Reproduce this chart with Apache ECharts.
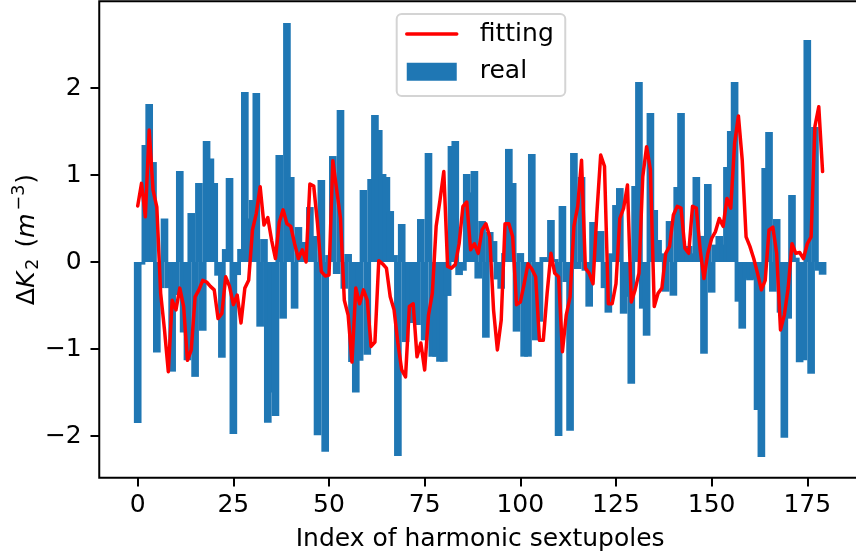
<!DOCTYPE html>
<html>
<head>
<meta charset="utf-8">
<script src="https://cdn.jsdelivr.net/npm/echarts@6/dist/echarts.min.js"></script>
<style>
  html, body { margin: 0; padding: 0; background: #fff; }
  #chart { width: 856px; height: 552px; }
</style>
</head>
<body>
<div id="chart"></div>
<script>
// Measured sextupole strength errors ("real") and the fitted curve ("fitting"),
// one value per harmonic sextupole index 0..179.
const realValues = [
  -1.85, -0.03, 1.345, 1.816, 1.149, -1.04, -0.30, 0.50, -0.30, -1.26,
  -0.38, 1.046, -0.81, -1.13, 0.563, -1.32, 0.908, -0.79, 1.39, 1.19,
  0.908, -0.157, -1.10, 0.149, 0.966, -1.977, -0.15, 0.15, 1.954, 0.5,
  0.713, 1.943, -0.743, 0.264, -1.847, -1.5, -1.77, 1.23, -0.651, 2.747,
  0.977, -0.536, 0.402, 0.23, 0.15, 0.632, 0.299, -1.99, 0.943, -2.18,
  0.08, 1.218, -0.138, 1.747, -0.307, 0.092, -1.149, -1.50, -1.134, 0.828,
  -1.065, 0.954, 1.69, 1.517, 1.011, 0.977, 0.586, 0.08, -2.23, 0.437,
  -0.92, -0.7, -0.7, -0.724, 0.494, -0.9, 1.253, -1.088, -1.088, -1.146,
  -1.146, -0.39, 1.333, 1.39, -0.15, -0.1, 1.011, 0.8, 1.046, -0.19,
  0.471, -0.87, 0.345, 0.241, -0.2, -0.307, 0.103, 1.3, 0.908, -0.8,
  0.103, -1.088, -1.088, 1.241, -0.9, -0.686, 0.057, 0.03, 0.483, 0.034,
  -2.0, 0.644, -0.23, -1.94, 1.253, -0.08, 0.977, -0.1, -0.513, 0.46,
  0.3, 0.356, -0.3, -0.582, 0.1, 0.655, 0.85, -0.594, -0.4, -1.40,
  0.874, 2.07, -0.536, -0.847, 1.713, 0.598, 0.253, 0.1, -0.341, 0.471,
  -0.387, 0.862, 1.713, 0.184, 0.184, 0.1, 0.977, 0.3, -1.054, 0.897,
  -0.352, 0.2, 0.299, 0.2, 1.092, 1.506, 2.07, -0.456, -0.766, -0.19,
  -0.21, -0.2, -1.70, -2.24, 1.08, 1.494, -0.341, 0.494, -0.582, -2.02,
  -0.651, 0.77, 0.05, -1.153, -1.13, 2.552, -1.284, 1.552, -0.1, -0.146
];

const fittingValues = [
  0.644, 0.904, 0.521, 1.517, 0.83, 0.63, -0.36, -0.78, -1.26, -0.44,
  -0.55, -0.30, -0.51, -1.13, -1.01, -0.40, -0.32, -0.21, -0.23, -0.28,
  -0.32, -0.65, -0.59, -0.17, -0.28, -0.49, -0.38, -0.70, -0.30, -0.21,
  0.37, 0.56, 0.866, 0.425, 0.51, 0.25, 0.04, 0.46, 0.60, 0.44,
  0.41, 0.21, 0.04, 0.14, 0.0, 0.897, 0.874, 0.44, -0.11, -0.16,
  -0.15, 1.165, 0.83, 0.50, -0.44, -0.61, -1.15, -0.30, -0.48, -0.32,
  -0.44, -0.97, -0.92, 0.015, -0.02, -0.07, -0.40, -0.55, -0.93, -1.24,
  -1.32, -0.51, -0.48, -1.09, -0.93, -1.24, -0.61, -0.36, 0.41, 0.71,
  1.04, -0.05, -0.07, -0.03, 0.21, 0.64, 0.69, 0.14, 0.21, 0.10,
  0.37, 0.44, 0.29, -0.55, -1.01, -0.67, 0.44, 0.44, 0.29, -0.49,
  -0.46, -0.25, -0.02, -0.08, -0.17, -0.90, -0.90, -0.36, 0.10, -0.13,
  -0.17, -1.03, -0.61, -0.40, 0.41, 0.64, 1.17, -0.07, -0.13, -0.25,
  0.56, 1.23, 1.10, -0.48, -0.48, -0.25, 0.50, 0.62, 0.885, -0.46,
  -0.32, -0.13, 0.98, 1.326, 1.06, -0.51, -0.36, -0.30, 0.10, 0.18,
  0.54, 0.64, 0.62, 0.16, 0.10, 0.64, 0.62, 0.14, -0.19, 0.10,
  0.27, 0.35, 0.50, 0.41, 0.73, 0.62, 1.364, 1.678, 1.17, 0.29,
  0.18, 0.04, -0.13, -0.32, -0.21, 0.37, 0.40, 0.10, -0.78, -0.61,
  -0.30, 0.21, 0.10, 0.11, 0.04, 0.21, 0.29, 1.56, 1.785, 1.04
];

const xTicks = [0, 25, 50, 75, 100, 125, 150, 175];
const yTicks = [-2, -1, 0, 1, 2];

const FONT = 'DejaVu Sans';
const BAR_SPAN = 2;          // each bar spans two index units (centered on its index)
const BAR_COLOR = '#1f77b4';
const LINE_COLOR = '#ff0000';
const LINE_WIDTH = 3.5;

const realData = realValues.map((v, i) => [i, v]);
const fittingData = fittingValues.map((v, i) => [i, v]);

const minus = s => String(s).replace('-', '\u2212');

const chart = echarts.init(document.getElementById('chart'), null, { renderer: 'canvas' });

chart.setOption({
  animation: false,
  backgroundColor: '#ffffff',
  grid: {
    left: 99.25, top: 1.35, width: 761.8, height: 476.35,
    show: true, borderColor: '#000000', borderWidth: 2,
    containLabel: false, outerBoundsMode: 'none'
  },
  legend: {
    orient: 'vertical',
    left: 396.7, top: 14,
    data: [
      // line-only legend key: the marker symbol is made fully transparent
      { name: 'fitting', itemStyle: { opacity: 0, borderWidth: 0 },
        lineStyle: { color: LINE_COLOR, width: LINE_WIDTH, opacity: 1 } },
      { name: 'real', icon: 'rect' }
    ],
    itemWidth: 50, itemHeight: 18, itemGap: 12.7,
    padding: [7.5, 11.5, 11.8, 8.3],
    backgroundColor: 'rgba(255,255,255,0.8)',
    borderColor: '#d4d4d4', borderWidth: 2, borderRadius: 5,
    textStyle: { fontSize: 25, fontFamily: FONT, color: '#000', lineHeight: 25, padding: [0, 0, 0, 18] }
  },
  xAxis: {
    type: 'value', min: -10.05, max: 189.05,
    name: 'Index of harmonic sextupoles',
    nameLocation: 'middle', nameGap: 49, nameMoveOverlap: false,
    nameTextStyle: { fontSize: 25, fontFamily: FONT, color: '#000' },
    axisLine: { show: false, onZero: false },
    axisTick: { show: true, length: 8.75, customValues: xTicks, lineStyle: { color: '#000', width: 2 } },
    axisLabel: { customValues: xTicks, margin: 15, fontSize: 25, fontFamily: FONT, color: '#000',
                 formatter: v => minus(v) },
    splitLine: { show: false }
  },
  yAxis: {
    type: 'value', min: -2.479, max: 2.996,
    name: '{a|\u0394}{i|K}{sub|2}{a| (}{i|m}{sup|\u22123}{a|)}',
    nameLocation: 'middle', nameGap: 55, nameRotate: 90, nameMoveOverlap: false,
    nameTextStyle: {
      fontSize: 25, fontFamily: FONT, color: '#000',
      rich: {
        a: { fontSize: 25, fontFamily: FONT, color: '#000' },
        i: { fontSize: 25, fontFamily: FONT, fontStyle: 'italic', color: '#000', padding: [0, 1, 0, 0] },
        sub: { fontSize: 17.5, fontFamily: FONT, color: '#000', padding: [12, 3, 0, 1] },
        sup: { fontSize: 17.5, fontFamily: FONT, color: '#000', padding: [0, 1, 16, 2] }
      }
    },
    axisLine: { show: false, onZero: false },
    axisTick: { show: true, length: 8.75, customValues: yTicks, lineStyle: { color: '#000', width: 2 } },
    axisLabel: { customValues: yTicks, margin: 17.5, fontSize: 25, fontFamily: FONT, color: '#000',
                 formatter: v => minus(v) },
    splitLine: { show: false }
  },
  series: [
    {
      name: 'real',
      type: 'custom',
      z: 2,
      itemStyle: { color: BAR_COLOR },
      data: realData,
      renderItem: function (params, api) {
        const k = api.value(0);
        const v = api.value(1);
        const a = api.coord([k - BAR_SPAN / 2, v]);
        const b = api.coord([k + BAR_SPAN / 2, 0]);
        return {
          type: 'rect',
          shape: {
            x: a[0], y: Math.min(a[1], b[1]),
            width: b[0] - a[0], height: Math.abs(b[1] - a[1])
          },
          style: { fill: api.visual('color') }
        };
      }
    },
    {
      name: 'fitting',
      type: 'line',
      z: 3,
      data: fittingData,
      symbol: 'none',
      showSymbol: false,
      color: LINE_COLOR,
      lineStyle: { color: LINE_COLOR, width: LINE_WIDTH, join: 'round', cap: 'round' }
    }
  ]
});
</script>
</body>
</html>
